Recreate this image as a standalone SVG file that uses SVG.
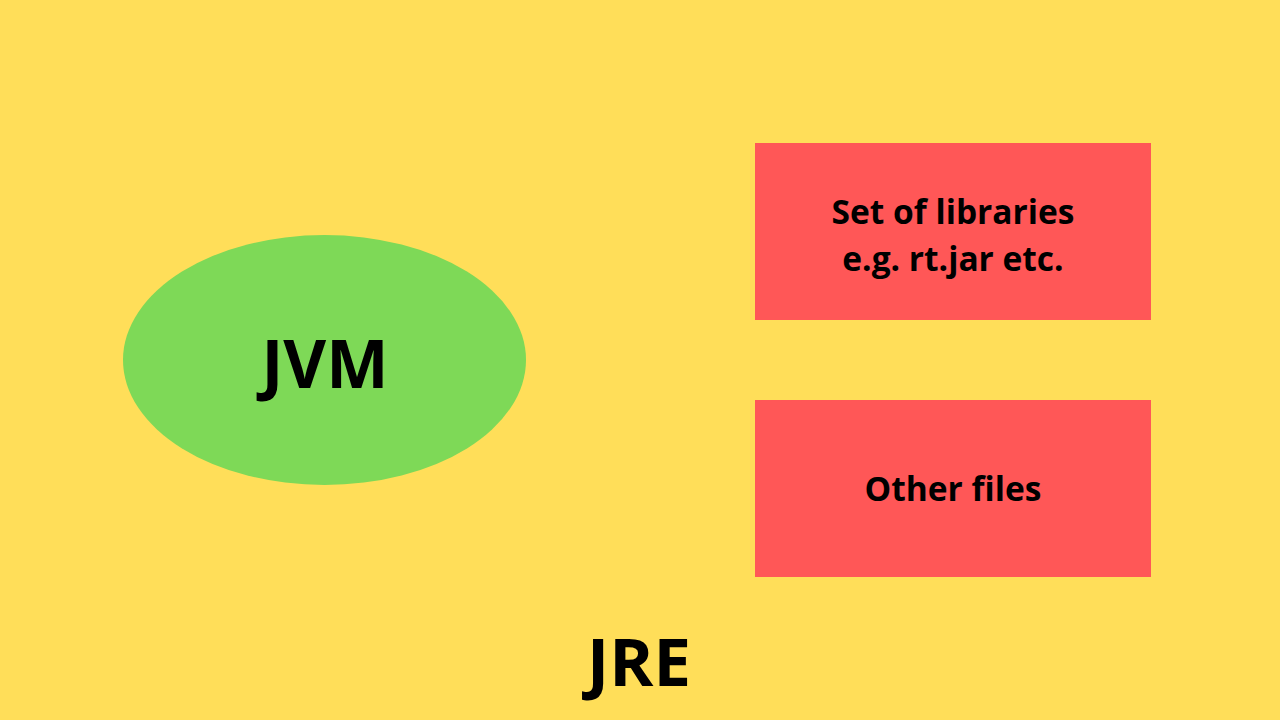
<svg xmlns="http://www.w3.org/2000/svg" width="1280" height="720" viewBox="0 0 1280 720">
<style>
.t{font-family:"Open Sans","Liberation Sans",sans-serif;font-weight:700;fill:#000;text-anchor:middle}
.box{fill:#FF5757}
</style>
<rect width="1280" height="720" fill="#FFDE59"/>
<g id="jvm">
<ellipse cx="324.5" cy="360" rx="201.5" ry="125" fill="#7ED957"/>
<text class="t" x="325" y="388" font-size="66">JVM</text>
</g>
<g id="libraries">
<rect class="box" x="755" y="143" width="396" height="177"/>
<text class="t" x="953" y="224" font-size="33.5">Set of libraries</text>
<text class="t" x="953" y="271" font-size="33.5">e.g. rt.jar etc.</text>
</g>
<g id="otherfiles">
<rect class="box" x="755" y="400" width="396" height="177"/>
<text class="t" x="953" y="501" font-size="33.5">Other files</text>
</g>
<g id="jre">
<text class="t" x="639" y="686" font-size="67">JRE</text>
</g>
<g id="connectors"/>
</svg>
